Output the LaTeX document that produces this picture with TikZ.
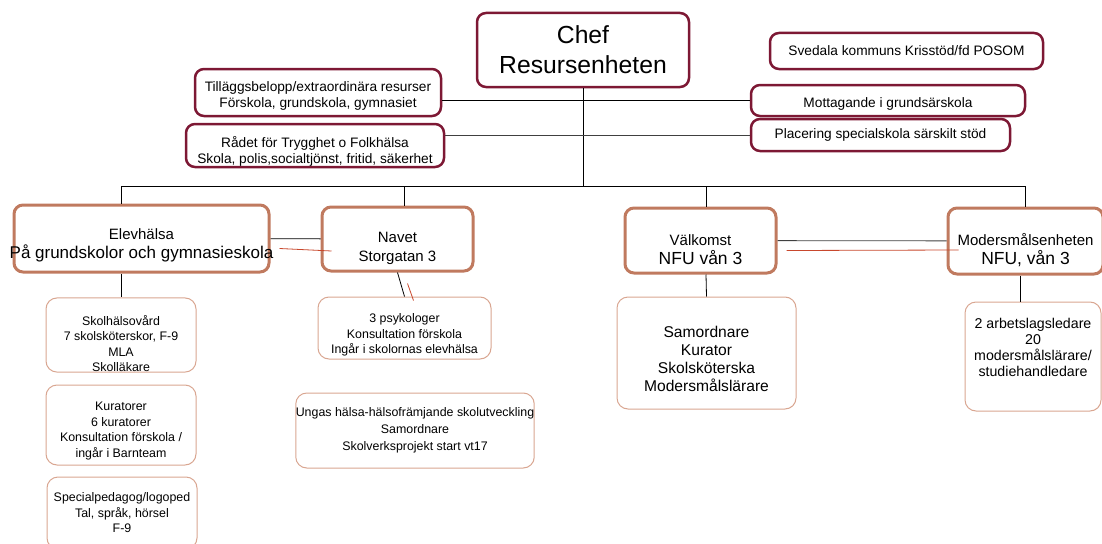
\documentclass[tikz,border=0pt]{standalone}
\usepackage{fontspec}
\setmainfont{Liberation Sans}
\usepackage{tikz}
\definecolor{maroon}{RGB}{125,24,52}
\definecolor{rust}{RGB}{192,122,95}
\definecolor{salmon}{RGB}{217,166,145}
\definecolor{redline}{RGB}{200,72,45}
\newcommand{\dn}[1]{\rule{0pt}{#1pt}}
\newcommand{\upby}[1]{\rule[-#1pt]{0pt}{#1pt}}
\tikzset{
    every node/.style={rectangle, rounded corners=9pt, fill=white, align=center,
    	inner sep=0pt}
}
\tikzset{
    topbox/.style={draw=maroon, line width=2.5pt, font=\fontsize{13.7}{16}\selectfont},
    midbox/.style={draw=rust, line width=3pt, font=\fontsize{15}{19}\selectfont},
    lowbox/.style={draw=salmon, line width=1pt, rounded corners=11pt,
    	font=\fontsize{12.4}{15.5}\selectfont}
}
\tikzset{
	every edge/.append style={line width=0.8pt, black}
}

\begin{document}
\begin{tikzpicture}[x=1pt, y=-1pt, line width=0.8pt]
	\useasboundingbox (0,0) rectangle (1102,543);
	\node (chef) [topbox, minimum width=212, minimum height=74, font=\fontsize{24.7}{30}\selectfont] at (583,50) {Chef\\Resursenheten};
	\node (posom) [topbox, minimum width=273, minimum height=36] at (906.5,51) {Svedala kommuns Krisstöd/fd POSOM};
	\node (tillagg) [topbox, minimum width=246, minimum height=47] at (318,92.5) {\dn{17}Tilläggsbelopp/extraordinära resurser\\Förskola, grundskola, gymnasiet};
	\node (radet) [topbox, minimum width=258, minimum height=43] at (315,145.5) {\dn{22.5}Rådet för Trygghet o Folkhälsa\\Skola, polis,socialtjönst, fritid, säkerhet};
	\node (mott) [topbox, minimum width=274, minimum height=31] at (888,100.5) {\dn{16}Mottagande i grundsärskola};
	\node (plac) [topbox, minimum width=259, minimum height=32] at (880.5,135) {Placering specialskola särskilt stöd};
	
	\node (elev) [midbox, minimum width=255, minimum height=67] at (141.5,238.5) {\dn{25}Elevhälsa\\{\fontsize{17}{19}\selectfont\makebox[0pt]{På grundskolor och gymnasieskola}}};
	\node (navet) [midbox, minimum width=151, minimum height=64] at (397.5,239) {\dn{30}Navet\\Storgatan 3};
	\node (valk) [midbox, minimum width=151, minimum height=65] at (700.5,240.5) {\dn{30}Välkomst\\{\fontsize{17.5}{19}\selectfont NFU vån 3}};
	\node (mod) [midbox, minimum width=155, minimum height=66] at (1025.5,241) {\dn{30}Modersmålsenheten\\{\fontsize{17.5}{19}\selectfont NFU, vån 3}};
	
	\node (skol) [lowbox, minimum width=150, minimum height=74] at (121,335) {\dn{27.5}Skolhälsovård\\7 skolsköterskor, F-9\\MLA\\Skolläkare};
	\node (kur) [lowbox, minimum width=150, minimum height=80] at (121,425) {\dn{21}Kuratorer\\6 kuratorer\\Konsultation förskola /\\ingår i Barnteam};
	\node (spec) [lowbox, minimum width=150, minimum height=72] at (122,513) {Specialpedagog/logoped\\Tal, språk, hörsel\\F-9};
	\node (psyk) [lowbox, minimum width=173, minimum height=62] at (404.5,328) {\dn{23}3 psykologer\\Konsultation förskola\\Ingår i skolornas elevhälsa};
	\node (ungas) [lowbox, minimum width=236, minimum height=75, font=\fontsize{12.4}{17}\selectfont] at (415,430.5) {Ungas hälsa-hälsofrämjande skolutveckling\\Samordnare\\Skolverksprojekt start vt17};
	\node (samord) [lowbox, minimum width=179, minimum height=112, font=\fontsize{15.6}{18}\selectfont] at (706.5,353) {\dn{23.5}Samordnare\\Kurator\\Skolsköterska\\Modersmålslärare};
	\node (modsub) [lowbox, minimum width=136, minimum height=109, font=\fontsize{14.2}{16}\selectfont] at (1033,356.5) {2 arbetslagsledare\\20\\modersmålslärare/\\studiehandledare\upby{19}};
	
	\coordinate (bus) at (583,186);
	\draw (chef) edge (bus);
	\draw (tillagg.east |- mott.west) edge (mott.west);
	\draw (radet.east |- plac.west) edge [black!75] (plac.west);
	\draw (bus) -| ([xshift=-20.5]elev.north);
	\draw (bus) -| ([xshift=6.5]navet.north);
	\draw (bus) -| ([xshift=5.5]valk.north);
	\draw (bus) -| (mod.north);
	
	\draw (elev) edge (navet); \draw (valk) edge [black!75] (mod);
	\draw (navet.south) edge (psyk.north);
	\draw ([xshift=-20.5]elev.south) edge (skol.north);
	\draw ([xshift=5.5]valk.south) edge (samord.north);
	\draw ([xshift=-5.5]mod.south) edge ([xshift=-13]modsub.north);
	
	\draw [redline] ([shift={(9,10)}]elev.east) -- ([shift={(11,12)}]navet.west);
	\draw [redline] ([shift={(10,11)}]navet.south) -- ([shift={(9,4)}]psyk.north);
	\draw [redline] ([shift={(9,10)}]valk.east) -- ([shift={(12,9)}]mod.west);
\end{tikzpicture}
\end{document}
